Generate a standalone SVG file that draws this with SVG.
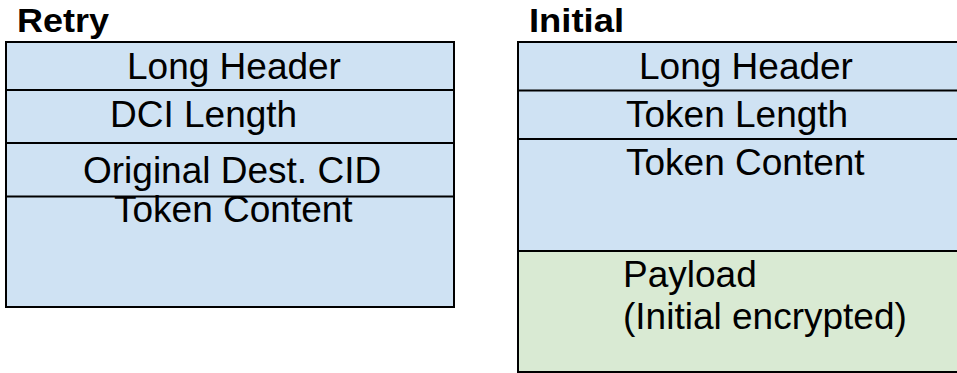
<svg xmlns="http://www.w3.org/2000/svg" width="957" height="373" viewBox="0 0 957 373">
  <style>
    .title { font-family: "Liberation Sans", Arial, sans-serif; font-weight: bold; font-size: 34px; fill: #000; }
    .lbl { font-family: "Liberation Sans", Arial, sans-serif; font-size: 37px; fill: #000; }
    .blue { fill: #cfe2f3; stroke: #000; stroke-width: 2; }
    .green { fill: #d9ead3; stroke: #000; stroke-width: 2; }
    .sep { stroke: #000; stroke-width: 2; }
  </style>
  <rect width="957" height="373" fill="#fff"/>

  <!-- Retry packet layout -->
  <g id="retry">
    <text class="title" x="17" y="32" textLength="92" lengthAdjust="spacingAndGlyphs">Retry</text>
    <rect class="blue" x="6" y="42" width="448" height="265"/>
    <line class="sep" x1="6" y1="90" x2="454" y2="90"/>
    <line class="sep" x1="6" y1="143" x2="454" y2="143"/>
    <line class="sep" x1="6" y1="196.5" x2="454" y2="196.5"/>
    <text class="lbl" x="127" y="79">Long Header</text>
    <text class="lbl" x="110" y="127">DCI Length</text>
    <text class="lbl" x="83" y="183">Original Dest. CID</text>
    <text class="lbl" x="114" y="222">Token Content</text>
  </g>

  <!-- Initial packet layout -->
  <g id="initial">
    <text class="title" x="529" y="32" textLength="95" lengthAdjust="spacingAndGlyphs">Initial</text>
    <rect class="blue" x="518" y="42" width="450" height="209"/>
    <rect class="green" x="518" y="251" width="450" height="121"/>
    <line class="sep" x1="518" y1="90.5" x2="957" y2="90.5"/>
    <line class="sep" x1="518" y1="139" x2="957" y2="139"/>
    <text class="lbl" x="639" y="79">Long Header</text>
    <text class="lbl" x="626" y="127">Token Length</text>
    <text class="lbl" x="626" y="175">Token Content</text>
    <text class="lbl" x="623" y="287">Payload</text>
    <text class="lbl" x="623" y="329">(Initial encrypted)</text>
  </g>
</svg>
